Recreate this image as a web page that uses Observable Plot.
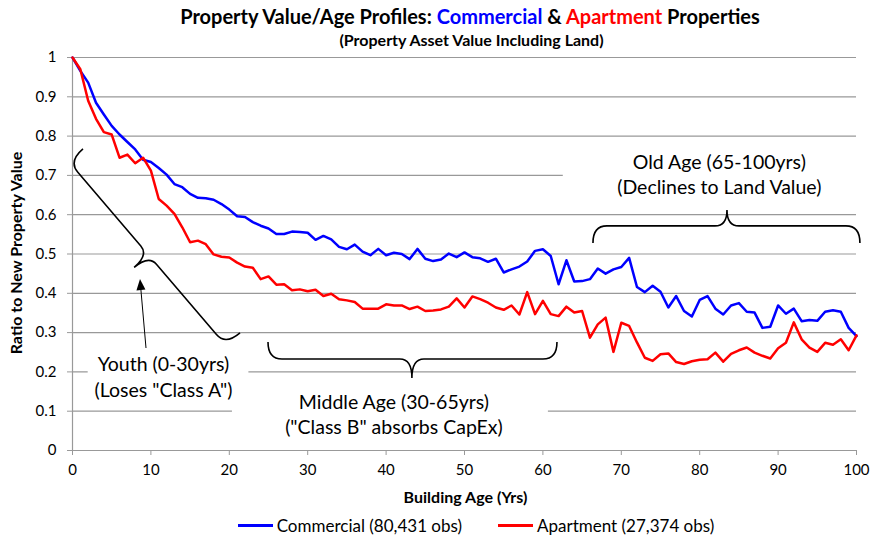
<!DOCTYPE html>
<html><head><meta charset="utf-8">
<script src="https://cdn.jsdelivr.net/npm/d3@7"></script>
<script src="https://cdn.jsdelivr.net/npm/@observablehq/plot@0.6"></script>
<style>
body{margin:0;background:#fff;font-family:Lato,"Open Sans",sans-serif;}
#wrap{position:relative;width:873px;height:542px;overflow:hidden;background:#fff}
.abs{position:absolute;white-space:nowrap}
#title{left:0;width:940px;top:4px;text-align:center;font-weight:bold;font-size:20px;color:#000}
#subtitle{left:0;width:943px;top:30px;text-align:center;font-weight:bold;font-size:16px;color:#000}
#chart{left:0;top:40px}
#xlabel{left:0;width:931px;top:487px;text-align:center;font-weight:bold;font-size:16px}
#ylabel{left:15px;top:253px;transform:translate(-50%,-50%) rotate(-90deg);font-weight:bold;font-size:16px}
#legend{left:0;width:952px;top:515px;display:flex;justify-content:center;gap:36px;font-size:17px}
.item{display:flex;align-items:center}
.sw{display:inline-block;width:35px;height:2.5px;margin-right:4px}
svg text{font-family:Lato,"Open Sans",sans-serif}
g[aria-label="y-axis tick"] path, g[aria-label="x-axis tick"] path{stroke:#999}
g[aria-label="y-axis"] g.tick line, g[aria-label="x-axis"] g.tick line{stroke:#999}
</style></head>
<body>
<div id="wrap">
  <div id="chart" class="abs"></div>
  <div id="title" class="abs">Property Value/Age Profiles: <span style="color:#0000ff">Commercial</span> &amp; <span style="color:#ff0000">Apartment</span> Properties</div>
  <div id="subtitle" class="abs">(Property Asset Value Including Land)</div>
  <div id="ylabel" class="abs">Ratio to New Property Value</div>
  <div id="xlabel" class="abs">Building Age (Yrs)</div>
  <div id="legend" class="abs">
    <div class="item"><span class="sw" style="background:#0000ff"></span>Commercial (80,431 obs)</div>
    <div class="item"><span class="sw" style="background:#ff0000"></span>Apartment (27,374 obs)</div>
  </div>
</div>
<script>
// ---- data ----
const ages = [0,1,2,3,4,5,6,7,8,9,10,11,12,13,14,15,16,17,18,19,20,21,22,23,24,25,26,27,28,29,30,31,32,33,34,35,36,37,38,39,40,41,42,43,44,45,46,47,48,49,50,51,52,53,54,55,56,57,58,59,60,61,62,63,64,65,66,67,68,69,70,71,72,73,74,75,76,77,78,79,80,81,82,83,84,85,86,87,88,89,90,91,92,93,94,95,96,97,98,99,100];
const commercial = [1.000,0.966,0.936,0.885,0.855,0.826,0.804,0.785,0.766,0.740,
  0.734,0.719,0.702,0.678,0.670,0.653,0.643,0.642,0.638,0.627,
  0.613,0.596,0.594,0.581,0.572,0.565,0.551,0.551,0.557,0.556,
  0.554,0.536,0.546,0.537,0.518,0.512,0.524,0.506,0.497,0.513,
  0.497,0.503,0.500,0.487,0.513,0.488,0.482,0.486,0.501,0.492,
  0.504,0.492,0.489,0.480,0.488,0.453,0.461,0.468,0.481,0.508,
  0.512,0.495,0.423,0.484,0.430,0.431,0.436,0.463,0.450,0.461,
  0.467,0.490,0.416,0.403,0.419,0.404,0.364,0.393,0.355,0.341,
  0.383,0.393,0.361,0.346,0.369,0.375,0.353,0.351,0.312,0.315,
  0.369,0.348,0.361,0.329,0.332,0.330,0.353,0.357,0.353,0.312,0.291];
const apartment = [1.000,0.970,0.890,0.844,0.810,0.804,0.745,0.753,0.731,0.745,
  0.712,0.640,0.623,0.602,0.568,0.530,0.534,0.525,0.499,0.493,
  0.491,0.478,0.468,0.465,0.436,0.443,0.422,0.423,0.408,0.410,
  0.405,0.409,0.393,0.399,0.385,0.382,0.378,0.361,0.361,0.361,
  0.372,0.369,0.369,0.360,0.366,0.355,0.356,0.359,0.366,0.387,
  0.364,0.392,0.385,0.376,0.364,0.358,0.369,0.346,0.403,0.347,
  0.381,0.347,0.342,0.366,0.351,0.355,0.287,0.321,0.338,0.251,
  0.325,0.317,0.275,0.236,0.228,0.245,0.247,0.225,0.220,0.227,
  0.231,0.232,0.249,0.226,0.246,0.255,0.262,0.249,0.241,0.234,
  0.260,0.274,0.326,0.283,0.262,0.251,0.274,0.269,0.283,0.255,0.293];
const xTicks = [0,10,20,30,40,50,60,70,80,90,100];
const yTicks = [0,0.1,0.2,0.3,0.4,0.5,0.6,0.7,0.8,0.9,1];

// ---- annotations (data coordinates) ----
const annoText = [
  {x:82.5, y:0.733, text:"Old Age (65-100yrs)"},
  {x:82.5, y:0.669, text:"(Declines to Land Value)"},
  {x:41.0, y:0.122, text:"Middle Age (30-65yrs)"},
  {x:41.0, y:0.0585, text:"(\"Class B\" absorbs CapEx)"},
  {x:11.6, y:0.219, text:"Youth (0-30yrs)"},
  {x:11.6, y:0.153, text:"(Loses \"Class A\")"}
];
const annoBoxes = [
  {x1:62.6, x2:102, y1:0.636, y2:0.776},
  {x1:20.4, x2:60.7, y1:0.025, y2:0.158},
  {x1:2.0, x2:22.5, y1:0.115, y2:0.26}
];
const braces = [
  {x1:66.45, y1:0.527, x2:100.5, y2:0.527, side:-1, frac:0.502, h:17, t:33},
  {x1:25.0, y1:0.275, x2:61.86, y2:0.275, side:1, frac:0.498, h:17, t:36},
  {x1:1.40, y1:0.766, x2:21.43, y2:0.298, side:1, frac:0.51, h:19, t:38}
];
const arrow = {x1:9.44, y1:0.2595, x2:8.67, y2:0.435};

const rows = ages.map((a,i)=>({age:a, c:commercial[i], p:apartment[i]}));

const plot = Plot.plot({
  width: 873, height: 470,
  marginTop: 17, marginBottom: 60, marginLeft: 72, marginRight: 17,
  style: {fontSize: "15px", fontFamily: "Lato, 'Open Sans', sans-serif", background: "transparent", color:"#000", overflow:"visible"},
  x: {domain:[0,100], ticks:xTicks, tickSize:5, tickPadding:9, label:null, tickFormat:d=>String(d)},
  y: {domain:[0,1], ticks:yTicks, tickSize:5, tickPadding:11, label:null, tickFormat:d=>String(+d.toFixed(1))},
  marks: [
    Plot.ruleY(yTicks, {stroke:"#999", strokeWidth:1.2}),
    Plot.ruleX([0], {stroke:"#999", strokeWidth:1.2}),
    Plot.rect(annoBoxes, {x1:"x1", x2:"x2", y1:"y1", y2:"y2", fill:"#fff"}),
    Plot.line(rows, {x:"age", y:"c", stroke:"#0000ff", strokeWidth:2.5}),
    Plot.line(rows, {x:"age", y:"p", stroke:"#ff0000", strokeWidth:2.5}),
    Plot.text(annoText, {x:"x", y:"y", text:"text", fontSize:19.5, fill:"#000"})
  ]
});
document.getElementById("chart").appendChild(plot);

// braces & arrow drawn with the plot's own scales
const sx = plot.scale("x"), sy = plot.scale("y");
const px = v => sx.apply(v), py = v => sy.apply(v);
const svg = d3.select(plot);
function bracePath(b){
  const x1=px(b.x1), y1=py(b.y1), x2=px(b.x2), y2=py(b.y2);
  const L=Math.hypot(x2-x1,y2-y1), ux=(x2-x1)/L, uy=(y2-y1)/L;
  const nx=b.side*(-uy), ny=b.side*ux;
  const P=(a,c)=>(x1+ux*a+nx*c).toFixed(2)+","+(y1+uy*a+ny*c).toFixed(2);
  const r=14, tr=12, m=L*b.frac, h=b.h, t=b.t;
  return `M${P(0,0)}Q${P(0,h)} ${P(r,h)}L${P(m-tr,h)}Q${P(m,h)} ${P(m,t)}Q${P(m,h)} ${P(m+tr,h)}L${P(L-r,h)}Q${P(L,h)} ${P(L,0)}`;
}
const g = svg.append("g");
braces.forEach(b=>g.append("path").attr("d",bracePath(b)).attr("fill","none").attr("stroke","#000").attr("stroke-width",1.6));
{
  const ax1=px(arrow.x1), ay1=py(arrow.y1), ax2=px(arrow.x2), ay2=py(arrow.y2);
  const L=Math.hypot(ax2-ax1,ay2-ay1), ux=(ax2-ax1)/L, uy=(ay2-ay1)/L;
  const hl=11, hw=4.5;
  const bx=ax2-ux*hl, by=ay2-uy*hl;
  g.append("line").attr("x1",ax1).attr("y1",ay1).attr("x2",bx).attr("y2",by).attr("stroke","#000").attr("stroke-width",1);
  g.append("path").attr("d",`M${ax2},${ay2}L${bx-uy*hw},${by+ux*hw}L${bx+uy*hw},${by-ux*hw}Z`).attr("fill","#000");
}
</script>
</body></html>
